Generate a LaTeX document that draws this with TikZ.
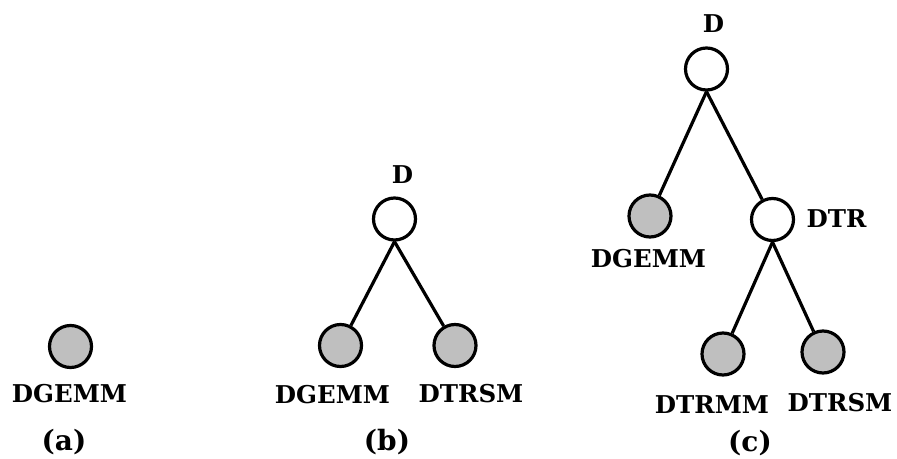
\documentclass[tikz,border=0pt]{standalone}
\usepackage{fontspec}
\setmainfont{DejaVu Serif}

\begin{document}
\begin{tikzpicture}[x=1pt,y=-1pt,
	leaf/.style={circle,draw,line width=3.2pt,fill=gray!50,minimum size=42pt,inner sep=0pt},
	knot/.style={circle,draw,line width=3.2pt,fill=white,minimum size=42pt,inner sep=0pt},
	lbl/.style={font=\fontsize{24.5}{29}\selectfont\bfseries,inner sep=0pt},
	tag/.style={font=\fontsize{28}{33}\selectfont\bfseries,inner sep=0pt},
	link/.style={line width=3.2pt}]
	\useasboundingbox (0,0) rectangle (897,458);

	\node[leaf] (a) at (70.5,346.5) {};
	\node[lbl] (aL) at (69.5,394) {DGEMM};
	\node[tag] (aT) at (64,442) {(a)};

	\node[knot] (bD) at (394.5,219) {};
	\node[leaf] (bL) at (340.5,345.5) {};
	\node[leaf] (bR) at (455,345.5) {};
	\draw[link] (bD.south) -- (bL);
	\draw[link] (bD.south) -- (bR);
	\node[lbl] (bDL) at (402.5,175) {D};
	\node[lbl] (bLL) at (332.5,395) {DGEMM};
	\node[lbl] (bRL) at (471,394) {DTRSM};
	\node[tag] (bT) at (387,442) {(b)};

	\node[knot] (cD) at (706.5,69) {};
	\node[leaf] (cL) at (650,216) {};
	\node[knot] (cR) at (772.5,219.5) {};
	\node[leaf] (cRL) at (723,354) {};
	\node[leaf] (cRR) at (823,352) {};
	\draw[link] (cD.south) -- (cL);
	\draw[link] (cD.south) -- (cR);
	\draw[link] (cR.south) -- (cRL);
	\draw[link] (cR.south) -- (cRR);
	\node[lbl] (cDL) at (713.5,24) {D};
	\node[lbl] (cLL) at (648.5,259) {DGEMM};
	\node[lbl] (cRT) at (836.5,218.5) {DTR};
	\node[lbl] (cRLL) at (712,405) {DTRMM};
	\node[lbl] (cRRL) at (840,403) {DTRSM};
	\node[tag] (cT) at (750,443) {(c)};
\end{tikzpicture}
\end{document}
